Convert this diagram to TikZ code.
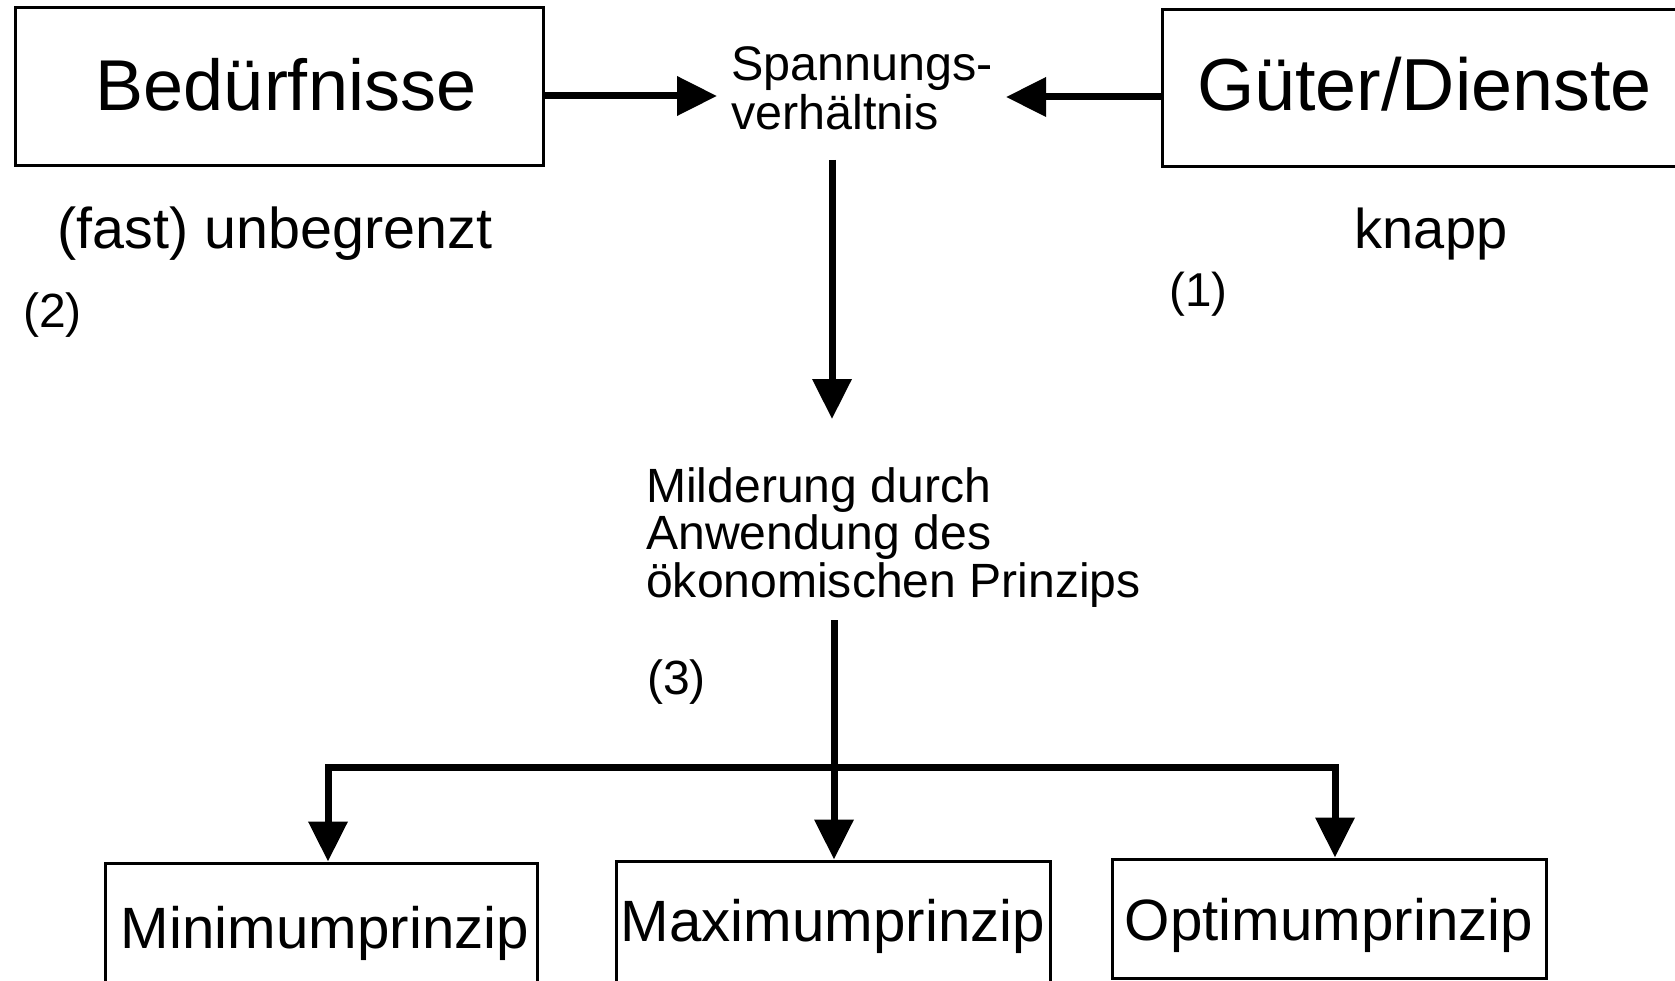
\documentclass[tikz,border=0pt]{standalone}
\usepackage{fontspec}
\setmainfont{Liberation Sans}
\usetikzlibrary{arrows.meta}
\tikzset{
  box/.style={draw, line width=3pt, inner sep=0pt, text depth=0pt},
  conn/.style={line width=7pt},
  arr/.style={line width=7pt, -{Triangle[length=40pt,width=38pt]}},
  lbl/.style={inner sep=0pt, anchor=base},
}
\begin{document}
\begin{tikzpicture}[x=1pt,y=1pt]
\useasboundingbox (0,0) rectangle (1675,-981);
% top boxes
\node[box, minimum width=528pt, minimum height=158pt, text height=48pt,
      font=\fontsize{72}{80}\selectfont] (bed) at (279,-87) {\hspace*{14pt}Bedürfnisse};
\node[box, minimum width=525pt, minimum height=157pt, text height=45pt,
      font=\fontsize{73.7}{80}\selectfont] (gut) at (1424.5,-88.5) {Güter/Dienste};
% centre texts
\node[inner sep=0pt, anchor=north west, align=left,
      font=\fontsize{48.5}{49}\selectfont] (sp) at (731,-46) {Spannungs-\\verhältnis};
\node[inner sep=0pt, anchor=north west, align=left,
      font=\fontsize{48.1}{47.5}\selectfont] (mild) at (646,-467)
      {Milderung durch\\Anwendung des\\ökonomischen Prinzips};
% labels
\node[lbl, font=\fontsize{57.5}{60}\selectfont] (unb) at (275,-249) {(fast) unbegrenzt};
\node[lbl, font=\fontsize{56}{60}\selectfont] (knapp) at (1431,-249) {knapp};
\node[lbl, anchor=base west, font=\fontsize{48}{50}\selectfont] (n2) at (23,-327) {(2)};
\node[lbl, anchor=base west, font=\fontsize{47.5}{50}\selectfont] (n1) at (1169,-307) {(1)};
\node[lbl, anchor=base west, font=\fontsize{48}{50}\selectfont] (n3) at (647,-694) {(3)};
% bottom boxes
\node[box, minimum width=432pt, minimum height=140pt, text height=30pt,
      font=\fontsize{58.3}{60}\selectfont] (min) at (321,-933) {\hspace*{8pt}Minimumprinzip};
\node[box, minimum width=434pt, minimum height=140pt, text height=20pt,
      font=\fontsize{58.3}{60}\selectfont] (max) at (833,-931) {Maximumprinzip};
\node[box, minimum width=434pt, minimum height=119pt, text height=43pt,
      font=\fontsize{58.3}{60}\selectfont] (opt) at (1329,-918.5) {Optimumprinzip};
% connector coordinates
\coordinate (spL) at (717,-96);
\coordinate (spR) at (1006,-97);
\coordinate (spB) at (832,-160);
\coordinate (mildT) at (832,-419);
\coordinate (stem) at (834,-620);
\coordinate (barL) at (328,-767);
\coordinate (barR) at (1335,-767);
% connectors
\draw[arr] (bed.east |- spL) -- (spL);
\draw[arr] (gut.west |- spR) -- (spR);
\draw[arr] (spB) -- (mildT);
\draw[conn, line cap=rect] (barL) -- (barR);
\draw[arr] (stem) -- (max.north -| stem);
\draw[arr] (barL) -- (min.north -| barL);
\draw[arr] (barR) -- (opt.north -| barR);
\end{tikzpicture}
\end{document}
